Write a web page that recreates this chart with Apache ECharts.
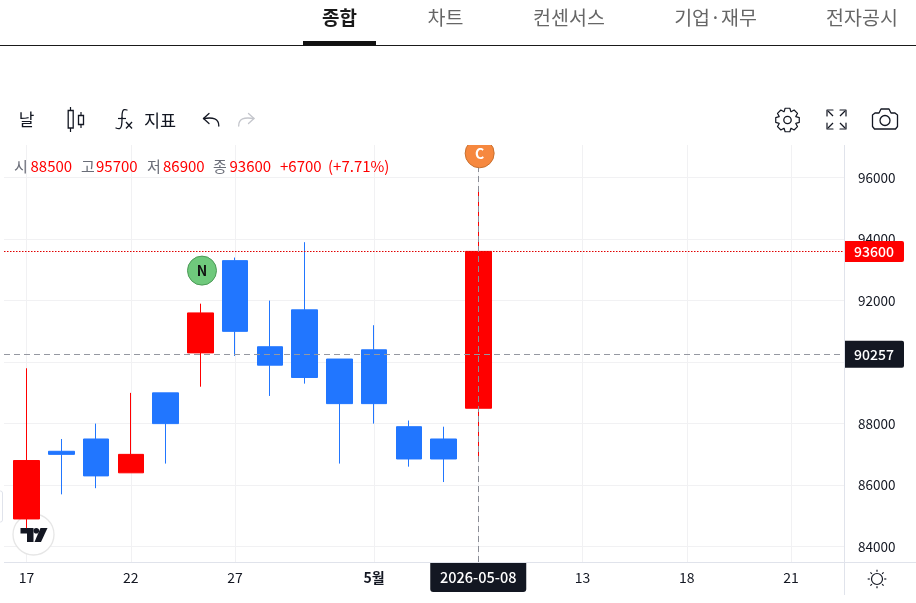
<!DOCTYPE html>
<html><head><meta charset="utf-8">
<style>html,body{margin:0;padding:0;background:#fff}#c{width:916px;height:603px}</style>
<script src="https://cdn.jsdelivr.net/npm/echarts@6/dist/echarts.min.js"></script>
</head><body><div id="c"></div>
<script>
const categories=['04-17','04-20','04-21','04-22','04-23','04-24','04-27','04-28','04-29','04-30','05-01','05-04','05-07','05-08'];
const opens =[84900,87100,87500,86400,89000,90300,93300,90500,91700,90100,90400,87900,87500,88500];
const closes=[86800,87000,86300,87000,88000,91600,91000,89900,89500,88650,88650,86850,86850,93600];
const lows  =[84600,85700,85900,86400,86700,89200,90200,88900,89300,86700,88000,86600,86100,86900];
const highs =[89800,87500,88000,89000,89000,91900,93400,92000,93900,90100,91200,88100,87900,95700];
const yTicks=[84000,86000,88000,90000,92000,94000,96000];
const xTickIdx=[0,3,6,10,13,16,19,22];
const xTickLabels={0:'17',3:'22',6:'27',10:'5월',16:'13',19:'18',22:'21'};
const lastPrice=93600, avgPrice=90257, cursorIdx=13, cursorDate='2026-05-08';
const ohlcLabels=['시','고','저','종'];
const ohlcValues=['88500','95700','86900','93600'];
const changeText=['+6700','(+7.71%)'];
const tabs=['종합','차트','컨센서스','기업·재무','전자공시'];

const FONT='"Noto Sans CJK KR","Noto Sans",sans-serif';
const INK='#131722', UP='#ff0000', DOWN='#2176ff', GRID='#f1f1f3', AX='#e0e3eb';
const gr=[];
const add=o=>gr.push(o);
const Z=60;
const line=(x1,y1,x2,y2,stroke,w,z)=>add({type:'line',z:z||Z,shape:{x1,y1,x2,y2},style:{stroke,lineWidth:w||1}});
const poly=(points,stroke,w,z)=>add({type:'polyline',z:z||Z,shape:{points},style:{stroke,lineWidth:w||1.3,fill:null,lineJoin:'round',lineCap:'round'}});
const bez=(x1,y1,cpx1,cpy1,cpx2,cpy2,x2,y2,stroke,w)=>add({type:'bezierCurve',z:Z,shape:{x1,y1,cpx1,cpy1,cpx2,cpy2,x2,y2},style:{stroke,lineWidth:w||1.3,fill:null,lineCap:'round'}});
const text=(x,y,t,o)=>add({type:'text',z:Z,x,y,style:Object.assign({text:t,font:'15px '+FONT,fill:INK,verticalAlign:'middle'},o||{})});
const box=(x,y,width,height,o,z)=>add({type:'rect',z:z||Z,shape:{x,y,width,height},style:Object.assign({fill:'#fff'},o&&o.style||{})});

box(0,0,916,145,{},50);
const tabX=[339.5,445.5,569,715.5,862];
tabs.forEach((t,i)=>text(tabX[i],18,t,{font:(i==0?'bold ':'')+(i==0?'19px ':'19.5px ')+FONT,fill:i==0?'#1a1a1a':'#666666',align:'center'}));
box(0,45,916,1,{style:{fill:'#1a1a1a'}});
box(303,41,73,4.5,{style:{fill:'#111111'}});
text(26.5,120,'날',{font:'17px '+FONT,align:'center'});
line(70.5,107,70.5,132,INK,1.2);
box(68.2,110.5,5,17.5,{style:{fill:'#fff',stroke:INK,lineWidth:1.3}});
line(81,112,81,128,INK,1.2);
box(78.5,115.5,5,9,{style:{fill:'#fff',stroke:INK,lineWidth:1.3}});
bez(127,110,122,108,122,113,122,118,INK);
bez(122,118,122,124,122,131,116,128,INK);
line(118,118.5,126,118.5,INK,1.2);
line(126,122,132,128.5,INK,1.3);line(132,122,126,128.5,INK,1.3);
text(160,120,'지표',{font:'17.5px '+FONT,align:'center'});
poly([[209,113.5],[203.5,118.5],[209,123.5]],INK);
bez(203.5,118.5,213,117,219,118.5,218.8,126,INK);
poly([[248.5,113.5],[254,118.5],[248.5,123.5]],'#c4c6cc');
bez(254,118.5,244,117,238.5,118.5,238.7,126,'#c4c6cc');
(function(){const cx=787.5,cy=120,pts=[];for(let i=0;i<8;i++){const a=i*Math.PI/4-Math.PI/2;
 pts.push([cx+12*Math.cos(a-0.2),cy+12*Math.sin(a-0.2)],[cx+12*Math.cos(a+0.2),cy+12*Math.sin(a+0.2)],[cx+9*Math.cos(a+0.38),cy+9*Math.sin(a+0.38)],[cx+9*Math.cos(a+0.785-0.38),cy+9*Math.sin(a+0.785-0.38)]);}
 pts.push(pts[0]);poly(pts,INK,1.2);
 add({type:'circle',z:Z,shape:{cx,cy,r:3.7},style:{stroke:INK,lineWidth:1.3,fill:'#fff'}});})();
[[827,110,1,1],[846,110,-1,1],[827,129,1,-1],[846,129,-1,-1]].forEach(c=>{const [x,y,sx,sy]=c;
 poly([[x+6*sx,y],[x,y],[x,y+6*sy]],INK,1.2);line(x+1*sx,y+1*sy,x+6*sx,y+6*sy,INK,1.2);});
poly([[875,113],[879,113],[881,109],[889,109],[891,113],[895,113],[897.5,115],[897.5,126.5],[895.5,129],[874.5,129],[872.5,126.5],[872.5,115],[875,113]],INK,1.3);
add({type:'circle',z:Z,shape:{cx:885,cy:120.5,r:5},style:{stroke:INK,lineWidth:1.3,fill:'#fff'}});
const lx=[14,81,147,213], vx=[30.5,96,163,229.5];
ohlcLabels.forEach((t,i)=>{text(lx[i],166,t,{fill:'#6a6d78'});text(vx[i],166,ohlcValues[i],{fill:UP});});
text(280,166,changeText[0],{fill:UP});text(328,166,changeText[1],{fill:UP});
box(4,562,912,1,{style:{fill:AX}});
box(844,145,1,450,{style:{fill:AX}});
add({type:'circle',z:Z,shape:{cx:877,cy:579,r:5.5},style:{stroke:INK,lineWidth:1.2,fill:'#fff'}});
for(let i=0;i<8;i++){const a=i*Math.PI/4;line(877+7.2*Math.cos(a),579+7.2*Math.sin(a),877+9.3*Math.cos(a),579+9.3*Math.sin(a),INK,1.2);}
add({type:'rect',z:1,shape:{x:-3,y:491,width:5.5,height:31,r:2},style:{fill:'#fff',stroke:AX,lineWidth:1}});
add({type:'circle',z:1,shape:{cx:33.5,cy:534.5,r:20.5},style:{fill:'#fff',stroke:'#e6e6e6',lineWidth:1.3}});
add({type:'polygon',z:1,shape:{points:[[20.5,528],[33.5,528],[33.5,542],[27,542],[27,533.5],[20.5,533.5]]},style:{fill:INK}});
add({type:'circle',z:1,shape:{cx:36.3,cy:530.8,r:2.8},style:{fill:INK}});
add({type:'polygon',z:1,shape:{points:[[40.5,528],[47.5,528],[41,542],[34.5,542]]},style:{fill:INK}});

const chart=echarts.init(document.getElementById('c'),null,{renderer:'canvas'});
const tagLabel=(bg,h)=>({show:true,position:'end',distance:30,color:'#fff',backgroundColor:bg,fontFamily:FONT,fontSize:14,fontWeight:500,width:60,height:h,lineHeight:h,align:'center',verticalAlign:'middle',borderRadius:[0,2,2,0],formatter:p=>String(p.value)});
chart.setOption({
 animation:false,backgroundColor:'#fff',
 grid:{left:4,right:72,top:145,bottom:41,containLabel:false},
 xAxis:{type:'value',min:-0.6475,max:23.525,axisLine:{show:false},
  axisTick:{show:false,customValues:xTickIdx},
  splitLine:{show:true,lineStyle:{color:GRID,width:1}},
  axisLabel:{customValues:xTickIdx,margin:9,color:INK,fontFamily:FONT,fontSize:14,hideOverlap:false,
   formatter:v=>{const t=xTickLabels[v];if(!t)return '';return t.endsWith('월')?'{b|'+t+'}':t;},
   rich:{b:{fontWeight:'bold',fontFamily:FONT,fontSize:14,color:INK}}}},
 yAxis:{type:'value',position:'right',min:83500,max:97060,axisLine:{show:false},
  axisTick:{show:false,customValues:yTicks},
  splitLine:{show:true,lineStyle:{color:GRID,width:1}},
  axisLabel:{customValues:yTicks,margin:14,color:INK,fontFamily:FONT,fontSize:13.5,formatter:v=>String(v)}},
 graphic:{elements:gr},
 series:[{type:'candlestick',barWidth:26,encode:{x:0,y:[1,2,3,4]},
  itemStyle:{color:UP,color0:DOWN,borderColor:UP,borderColor0:DOWN,borderWidth:1},
  data:categories.map((c,i)=>[i,opens[i],closes[i],lows[i],highs[i]]),
  markLine:{silent:true,symbol:'none',animation:false,precision:0,data:[
    {yAxis:lastPrice,lineStyle:{color:'#e00000',type:[1.5,1.5],width:1},label:tagLabel('#ff0000',21)},
    {yAxis:avgPrice,lineStyle:{color:'#9598a1',type:[6,4],width:1},label:tagLabel(INK,27)},
    {xAxis:cursorIdx,lineStyle:{color:'#8a8d96',type:[6,4],width:1},
     label:{show:true,position:'start',distance:0,color:'#fff',backgroundColor:INK,fontFamily:FONT,fontSize:14.5,fontWeight:500,width:96,height:30,lineHeight:30,align:'center',borderRadius:[0,0,3,3],formatter:()=>cursorDate}}
  ]},
  markPoint:{silent:true,animation:false,symbol:'circle',symbolSize:29,data:[
    {coord:[5.05,92975],itemStyle:{color:'#6fc97c',borderColor:'#4d9a58',borderWidth:1},label:{show:true,formatter:'N',color:'#111',fontWeight:'bold',fontSize:14,fontFamily:FONT}},
    {coord:[13.04,96790],itemStyle:{color:'#f6883f',borderColor:'#c8702f',borderWidth:1},label:{show:true,formatter:'C',color:'#fff',fontWeight:'bold',fontSize:14,fontFamily:FONT}}
  ]}
 }]
});
</script></body></html>
